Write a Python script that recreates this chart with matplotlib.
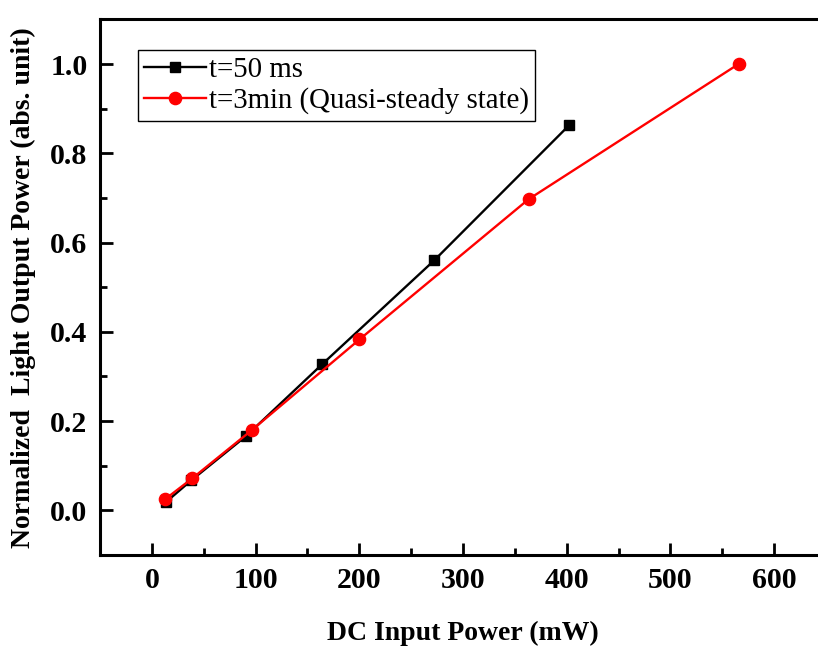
import matplotlib
matplotlib.use('Agg')
import matplotlib.pyplot as plt
from matplotlib.ticker import MultipleLocator

# input power (mW) vs normalized light output
p_50ms = [13.8, 37.9, 90.6, 164.5, 272.2, 402.4]
l_50ms = [0.019, 0.067, 0.166, 0.328, 0.560, 0.863]
p_3min = [12.8, 39.1, 97.0, 200.2, 363.2, 565.7]
l_3min = [0.025, 0.072, 0.181, 0.383, 0.697, 1.000]

label_50ms = 't=50 ms'
label_3min = 't=3min (Quasi-steady state)'

plt.rcParams['font.family'] = ['Liberation Serif', 'DejaVu Serif']

fig = plt.figure(figsize=(8.18, 6.49), dpi=100)
ax = fig.add_axes([100 / 818, 94 / 649, 726 / 818, 535.6 / 649])

ax.plot(p_50ms, l_50ms, color='black', lw=1.7, marker='s', ms=7.5, label=label_50ms)
ax.plot(p_3min, l_3min, color='red', lw=1.7, marker='o', ms=8.8, label=label_3min)

ax.set_xlim(-50, 650)
ax.set_ylim(-0.1, 1.1)
ax.xaxis.set_major_locator(MultipleLocator(100))
ax.xaxis.set_minor_locator(MultipleLocator(50))
ax.yaxis.set_major_locator(MultipleLocator(0.2))
ax.yaxis.set_minor_locator(MultipleLocator(0.1))
ax.tick_params(which='both', direction='in', width=2, labelsize=21.5)
ax.tick_params(axis='y', pad=9)
ax.tick_params(axis='x', pad=9)
ax.tick_params(which='major', length=9)
ax.tick_params(which='minor', length=5)
for lbl in ax.get_xticklabels() + ax.get_yticklabels():
    lbl.set_fontweight('bold')
for sp in ax.spines.values():
    sp.set_linewidth(2.2)

ax.set_xlabel('DC Input Power (mW)', fontsize=20, fontweight='bold', labelpad=19)
ax.set_ylabel('Normalized  Light Output Power (abs. unit)', fontsize=20,
              fontweight='bold', labelpad=10)

leg = ax.legend(loc='upper left', bbox_to_anchor=(0.052, 0.942), borderaxespad=0,
                fontsize=20.8, fancybox=False, handlelength=2.15, framealpha=1,
                borderpad=0.22, labelspacing=0.15, handletextpad=0.1)
leg.get_frame().set_edgecolor('black')
leg.get_frame().set_linewidth(1.0)

fig.savefig('out.png', dpi=100)
